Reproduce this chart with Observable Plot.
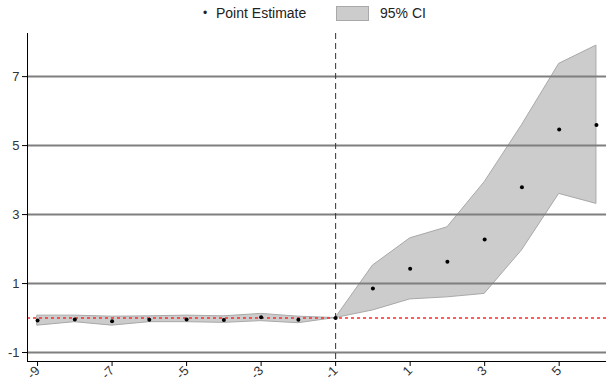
<!DOCTYPE html>
<html>
<head>
<meta charset="utf-8">
<script src="https://cdn.jsdelivr.net/npm/d3@7"></script>
<script src="https://cdn.jsdelivr.net/npm/@observablehq/plot@0.6"></script>
<style>
  html, body { margin: 0; padding: 0; background: #fff; }
  body { width: 606px; height: 383px; overflow: hidden; font-family: "Liberation Sans", Arial, sans-serif; }
  #legend { position: relative; height: 28px; width: 606px; color: #222; font-size: 14px; }
  #legend span { position: absolute; line-height: 16px; }
  #legend .box { position: absolute; left: 336px; top: 6px; width: 33px; height: 15px; background: #cccccc; border: 1px solid #a9a9a9; box-sizing: border-box; }
</style>
</head>
<body>
<div id="legend">
  <span style="left:203px; top:5px; font-size:12px;">•</span>
  <span style="left:216px; top:5px;">Point Estimate</span>
  <div class="box"></div>
  <span style="left:380px; top:5px;">95% CI</span>
</div>
<div id="chart"></div>
<script>
const periods  = [-9, -8, -7, -6, -5, -4, -3, -2, -1, 0, 1, 2, 3, 4, 5, 6];
const estimate = [-0.07, -0.04, -0.09, -0.05, -0.04, -0.06, 0.02, -0.05, 0, 0.86, 1.43, 1.63, 2.28, 3.79, 5.47, 5.60];
const ciLow    = [-0.22, -0.12, -0.22, -0.12, -0.12, -0.14, -0.09, -0.15, 0, 0.22, 0.54, 0.60, 0.70, 1.96, 3.60, 3.31];
const ciHigh   = [0.07, 0.07, 0.04, 0.05, 0.07, 0.05, 0.12, 0.04, 0, 1.52, 2.31, 2.63, 3.94, 5.59, 7.37, 7.90];
const xTicks = [-9, -7, -5, -3, -1, 1, 3, 5];
const yTicks = [-1, 1, 3, 5, 7];
const treatPeriod = -1;
const refLevel = 0;

const data = periods.map((t, i) => ({t, est: estimate[i], lo: ciLow[i], hi: ciHigh[i]}));
const xDomain = [-9.27, 6.27];
const yDomain = [-1.26, 8.25];
const fmt = d => String(d);

const chart = Plot.plot({
  width: 606,
  height: 355,
  marginLeft: 27,
  marginRight: 0,
  marginTop: 5,
  marginBottom: 22,
  style: {fontFamily: "'Liberation Sans', Arial, sans-serif", fontSize: "13px", color: "#333", overflow: "visible"},
  x: {domain: xDomain},
  y: {domain: yDomain},
  marks: [
    Plot.areaY(data, {x: "t", y1: "lo", y2: "hi", fill: "#cccccc", stroke: "#a9a9a9", strokeWidth: 1}),
    Plot.ruleY(yTicks, {stroke: "#7f7f7f", strokeWidth: 2}),
    Plot.ruleY([refLevel], {stroke: "#ff2a2a", strokeDasharray: "3,3", strokeWidth: 1.5}),
    Plot.ruleX([treatPeriod], {stroke: "#333", strokeDasharray: "6,4", strokeWidth: 1}),
    Plot.dot(data, {x: "t", y: "est", r: 2, fill: "black", stroke: null}),
    Plot.ruleX([xDomain[0]], {stroke: "black", strokeWidth: 1}),
    Plot.ruleY([yDomain[0]], {stroke: "black", strokeWidth: 1}),
    Plot.axisX({ticks: xTicks, tickFormat: fmt, tickRotate: -45, tickSize: 5, tickPadding: 2, label: null, fontSize: 13, stroke: "black"}),
    Plot.axisY({ticks: yTicks, tickFormat: fmt, tickSize: 5, tickPadding: 3, label: null, fontSize: 13, stroke: "black"})
  ]
});
document.getElementById("chart").appendChild(chart);
</script>
</body>
</html>
